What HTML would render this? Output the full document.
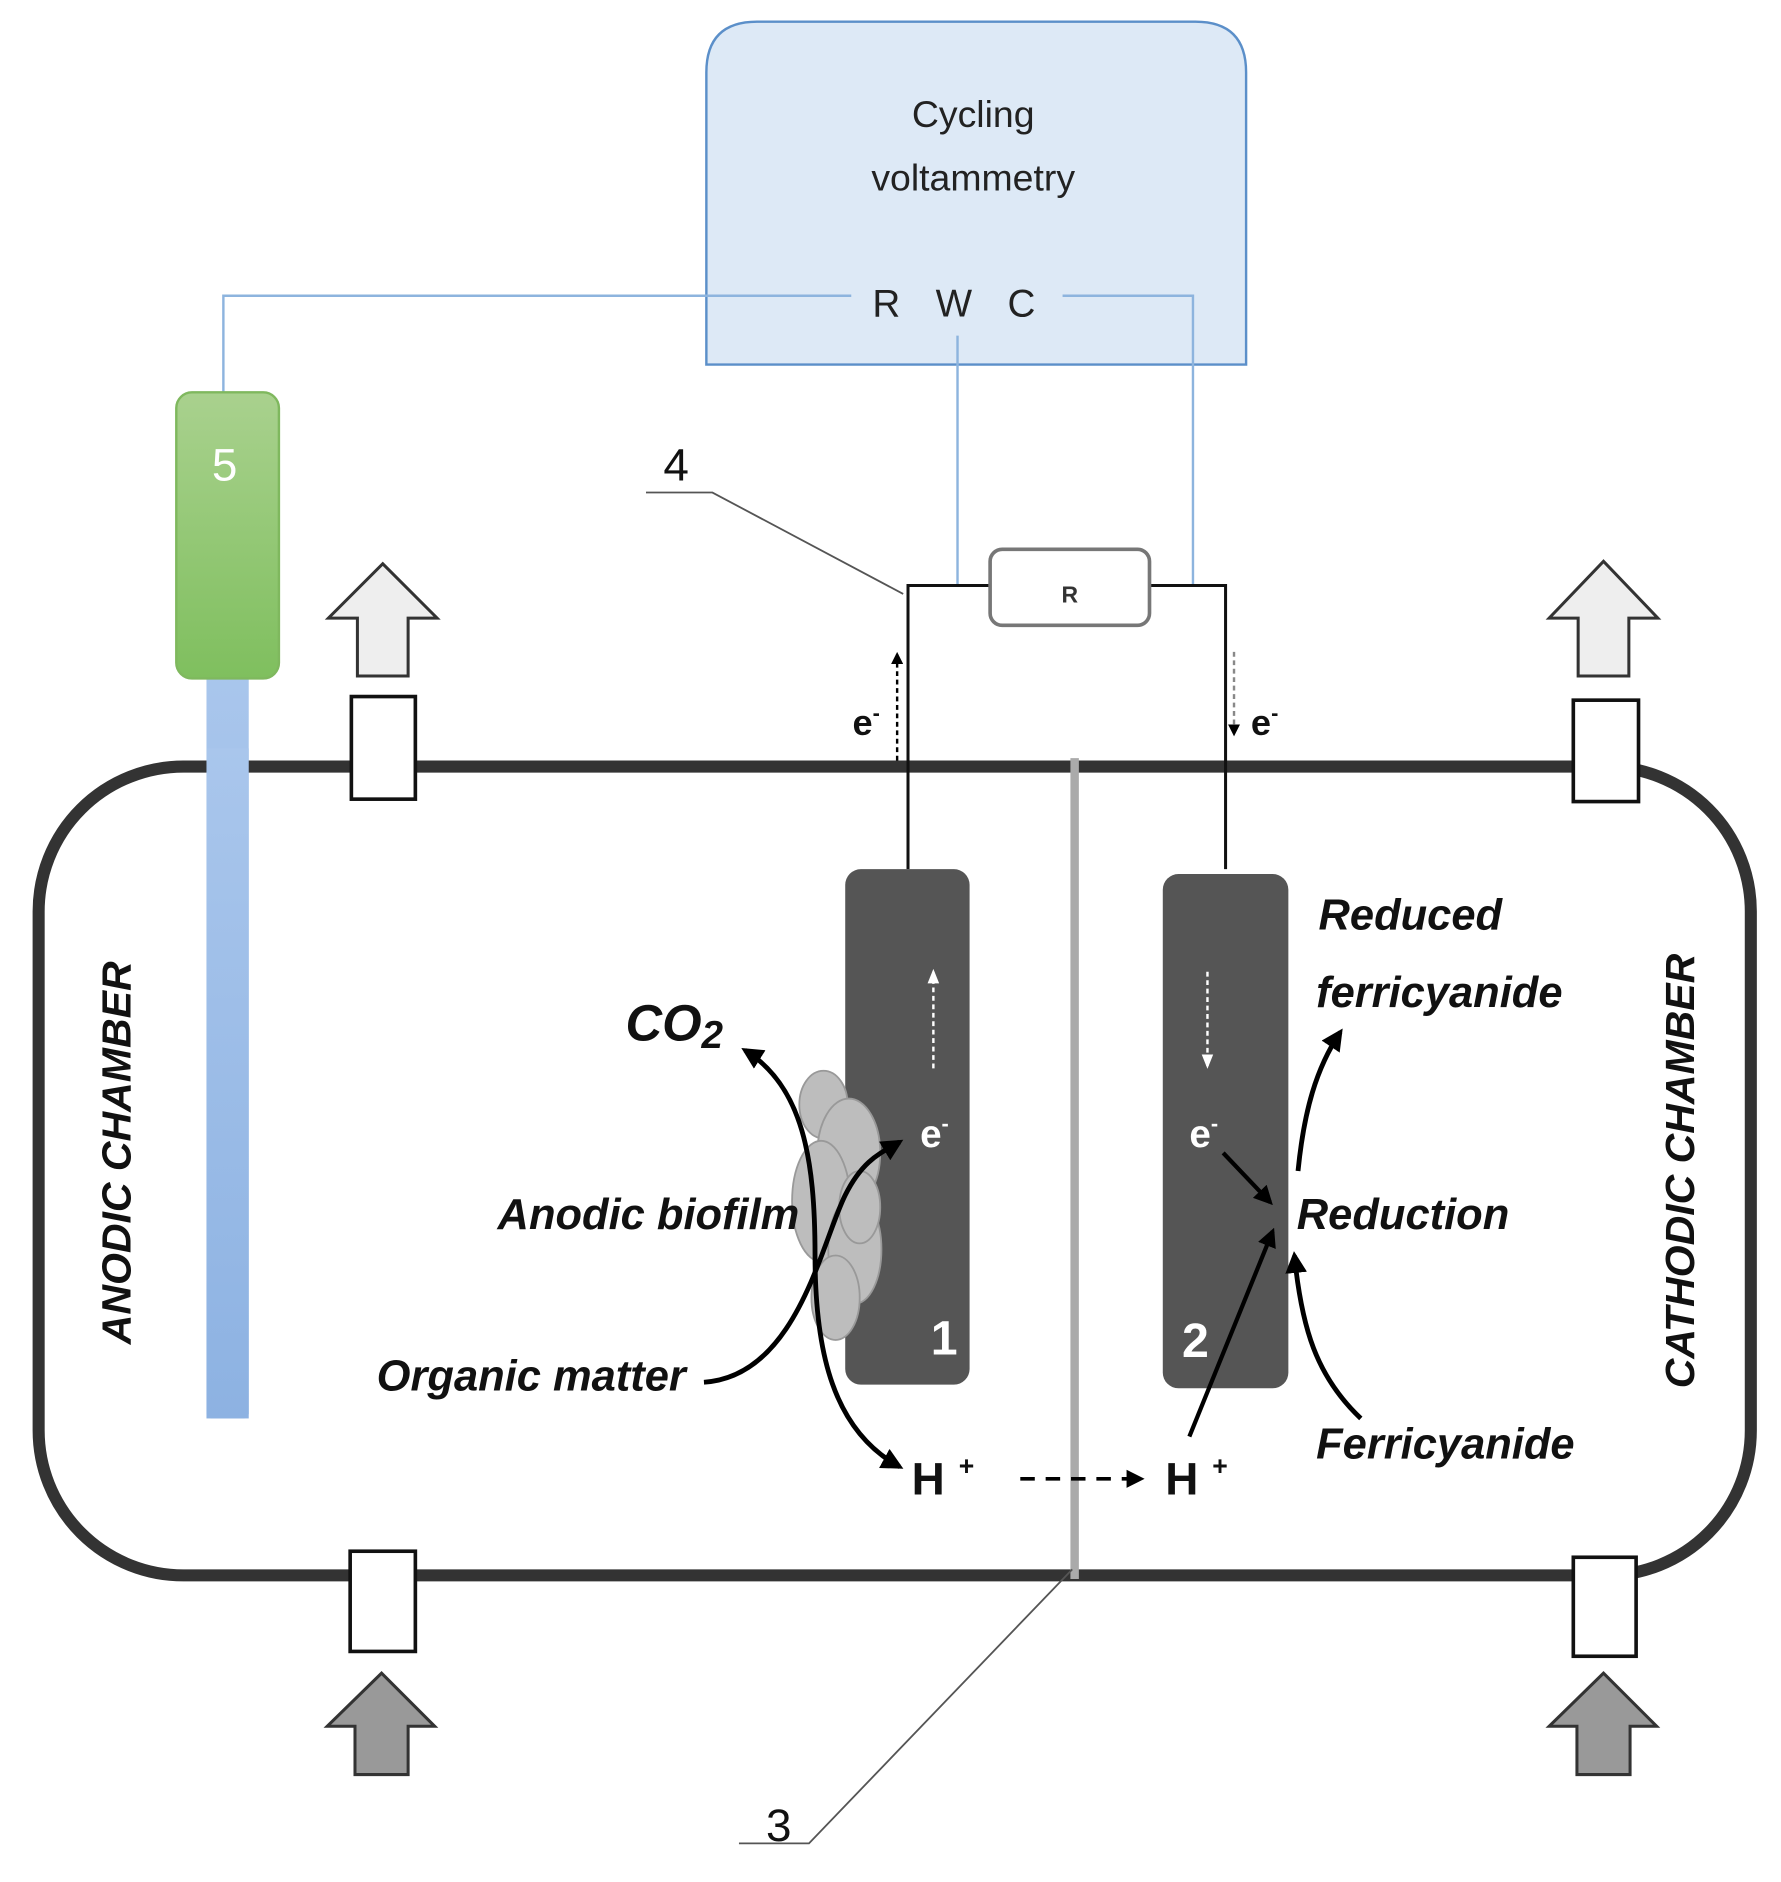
<!DOCTYPE html>
<html><head><meta charset="utf-8"><style>
html,body{margin:0;padding:0;background:#fff;width:1781px;height:1882px;overflow:hidden}
svg{display:block}
text{font-family:"Liberation Sans",sans-serif}
.bi{font-weight:bold;font-style:italic;fill:#111}
</style></head><body>
<svg width="1781" height="1882" viewBox="0 0 1475 1559" preserveAspectRatio="none" xmlns="http://www.w3.org/2000/svg">
<defs>
<linearGradient id="g" x1="0" y1="0" x2="0" y2="1"><stop offset="0" stop-color="#a9d18e"/><stop offset="1" stop-color="#7fbf5e"/></linearGradient>
<linearGradient id="b" x1="0" y1="0" x2="0" y2="1"><stop offset="0" stop-color="#a9c6ec"/><stop offset="1" stop-color="#8db2e2"/></linearGradient>
<marker id="ah" viewBox="0 0 10 10" refX="8" refY="5" markerWidth="5" markerHeight="5" orient="auto"><path d="M0,0L10,5L0,10z" fill="#000"/></marker>
<marker id="ahs" viewBox="0 0 10 10" refX="8" refY="5" markerWidth="4.5" markerHeight="4.5" orient="auto-start-reverse"><path d="M0,0L10,5L0,10z" fill="#000"/></marker>
<marker id="ahw" viewBox="0 0 10 10" refX="8" refY="5" markerWidth="6" markerHeight="6" orient="auto"><path d="M0,1L10,5L0,9z" fill="#fff"/></marker>
</defs>
<path d="M585,302 V60 Q585,18 627,18 H990 Q1032,18 1032,60 V302 Z" fill="#dde9f6" stroke="#5b8fc9" stroke-width="2"/>
<text x="806" y="105" font-size="31" text-anchor="middle" fill="#222">Cycling</text>
<text x="806" y="158" font-size="31" text-anchor="middle" fill="#222">voltammetry</text>
<text x="734" y="262" font-size="32" text-anchor="middle" fill="#222">R</text>
<text x="790" y="262" font-size="32" text-anchor="middle" fill="#222">W</text>
<text x="846" y="262" font-size="32" text-anchor="middle" fill="#222">C</text>
<g stroke="#8db4de" stroke-width="2" fill="none">
<path d="M705,245 H185 V325"/>
<path d="M880,245 H988 V485"/>
<path d="M793,278 V485"/>
</g>
<rect x="171" y="555" width="35" height="620" rx="4" fill="url(#b)"/>
<rect x="146" y="325" width="85" height="237" rx="13" fill="url(#g)" stroke="#7fb85e" stroke-width="2"/>
<text x="186" y="398" font-size="38" text-anchor="middle" fill="#fff">5</text>
<rect x="32" y="635" width="1418" height="670" rx="120" fill="none" stroke="#333" stroke-width="10"/>
<rect x="171" y="620" width="35" height="555" fill="url(#b)"/>
<g fill="#fff" stroke="#111" stroke-width="3">
<rect x="291" y="577" width="53" height="85"/>
<rect x="1303" y="580" width="54" height="84"/>
<rect x="290" y="1285" width="54" height="83"/>
<rect x="1303" y="1290" width="52" height="82"/>
</g>
<g stroke="#333" stroke-width="2.5">
<path d="M296,560 V512 H272 L317,467 L362,512 H338 V560 Z" fill="#eee"/>
<path d="M1307,560 V512 H1283 L1328,465 L1373,512 H1349 V560 Z" fill="#eee"/>
<path d="M294,1470 V1430 H271 L316,1386 L360,1430 H338 V1470 Z" fill="#999"/>
<path d="M1306,1470 V1430 H1283 L1328,1386 L1372,1430 H1350 V1470 Z" fill="#999"/>
</g>
<line x1="890" y1="628" x2="890" y2="1308" stroke="#aaa" stroke-width="7"/>
<path d="M888,1300 L670,1527 H612" stroke="#555" stroke-width="1.5" fill="none"/>
<text x="645" y="1525" font-size="38" text-anchor="middle" fill="#111">3</text>
<text x="560" y="398" font-size="38" text-anchor="middle" fill="#111">4</text>
<path d="M535,408 H590 L748,492" stroke="#555" stroke-width="1.5" fill="none"/>
<path d="M752,720 V485 H820 M952,485 H1015 V720" stroke="#111" stroke-width="2.5" fill="none"/>
<rect x="820" y="455" width="132" height="63" rx="10" fill="#fff" stroke="#777" stroke-width="3"/>
<text x="886" y="499" font-size="19" font-weight="bold" text-anchor="middle" fill="#333">R</text>
<text x="706" y="609" font-size="30" font-weight="bold" fill="#111">e<tspan font-size="18" dy="-12">-</tspan></text>
<line x1="743" y1="630" x2="743" y2="542" stroke="#000" stroke-width="2" stroke-dasharray="4,3" marker-end="url(#ah)"/>
<text x="1036" y="609" font-size="30" font-weight="bold" fill="#111">e<tspan font-size="18" dy="-12">-</tspan></text>
<line x1="1022" y1="540" x2="1022" y2="608" stroke="#888" stroke-width="2" stroke-dasharray="4,3" marker-end="url(#ah)"/>
<rect x="700" y="720" width="103" height="427" rx="13" fill="#555"/>
<rect x="963" y="724" width="104" height="426" rx="13" fill="#555"/>
<g fill="#bdbdbd" stroke="#999" stroke-width="1.5">
<ellipse cx="682" cy="915" rx="20" ry="28"/>
<ellipse cx="703" cy="955" rx="26" ry="45"/>
<ellipse cx="680" cy="995" rx="24" ry="50"/>
<ellipse cx="708" cy="1035" rx="22" ry="45"/>
<ellipse cx="692" cy="1075" rx="20" ry="35"/>
<ellipse cx="712" cy="1000" rx="17" ry="30"/>
</g>
<text x="782" y="1122" font-size="40" font-weight="bold" text-anchor="middle" fill="#fff">1</text>
<text x="990" y="1124" font-size="40" font-weight="bold" text-anchor="middle" fill="#fff">2</text>
<line x1="773" y1="885" x2="773" y2="805" stroke="#fff" stroke-width="2" stroke-dasharray="4,3" marker-end="url(#ahw)"/>
<line x1="1000" y1="805" x2="1000" y2="883" stroke="#fff" stroke-width="2" stroke-dasharray="4,3" marker-end="url(#ahw)"/>
<text x="762" y="950" font-size="32" font-weight="bold" fill="#fff">e<tspan font-size="18" dy="-13">-</tspan></text>
<text x="985" y="950" font-size="32" font-weight="bold" fill="#fff">e<tspan font-size="18" dy="-13">-</tspan></text>
<g stroke="#000" stroke-width="4" fill="none">
<path d="M583,1145 C660,1140 680,1030 700,990 C715,960 730,955 745,946" marker-end="url(#ahs)"/>
<path d="M745,1215 C690,1185 675,1120 675,1040 C675,960 665,900 617,870" marker-start="url(#ahs)" marker-end="url(#ahs)"/>
<path d="M1013,955 L1052,996" stroke-width="3.5" marker-end="url(#ahs)"/>
<path d="M985,1190 L1054,1020" stroke-width="3.5" marker-end="url(#ahs)"/>
<path d="M1075,970 C1080,920 1090,885 1110,855" marker-end="url(#ahs)"/>
<path d="M1127,1175 C1090,1140 1078,1100 1072,1040" marker-end="url(#ahs)"/>
</g>
<path d="M845,1225 H945" stroke="#000" stroke-width="3" stroke-dasharray="12,9" fill="none" marker-end="url(#ah)"/>
<text x="518" y="862" font-size="42" class="bi">CO<tspan font-size="32" dy="6">2</tspan></text>
<text x="662" y="1018" font-size="36" text-anchor="end" class="bi">Anodic biofilm</text>
<text x="568" y="1152" font-size="36" text-anchor="end" class="bi">Organic matter</text>
<text x="755" y="1238" font-size="38" font-weight="bold" fill="#111">H</text>
<text x="794" y="1222" font-size="22" font-weight="bold" fill="#111">+</text>
<text x="965" y="1238" font-size="38" font-weight="bold" fill="#111">H</text>
<text x="1004" y="1222" font-size="22" font-weight="bold" fill="#111">+</text>
<text x="1092" y="770" font-size="36" class="bi">Reduced</text>
<text x="1090" y="834" font-size="36" class="bi">ferricyanide</text>
<text x="1074" y="1018" font-size="36" class="bi">Reduction</text>
<text x="1090" y="1208" font-size="36" class="bi">Ferricyanide</text>
<text transform="translate(108,955) rotate(-90)" font-size="34" text-anchor="middle" class="bi">ANODIC CHAMBER</text>
<text transform="translate(1403,970) rotate(-90)" font-size="34" text-anchor="middle" class="bi">CATHODIC CHAMBER</text>
</svg>
</body></html>
